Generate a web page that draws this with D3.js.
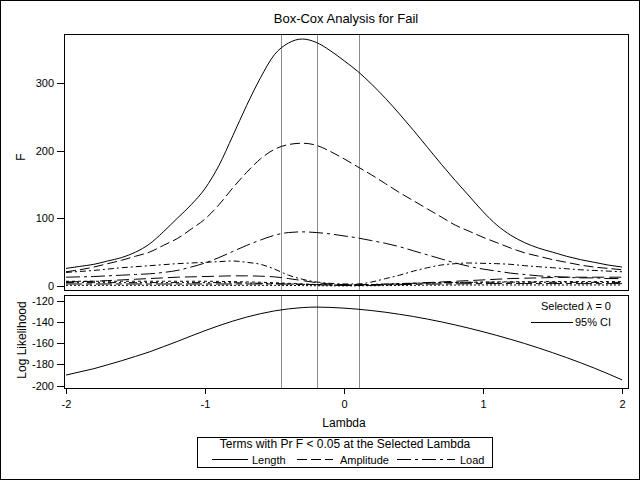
<!DOCTYPE html>
<html><head><meta charset="utf-8">
<script src="https://cdn.jsdelivr.net/npm/d3@7"></script>
<style>
body{margin:0;background:#fff}
text{font-family:"Liberation Sans",Arial,Helvetica,sans-serif;fill:#000}
</style>
</head><body>
<svg id="chart" width="640" height="480"></svg>
<script>
// ---------------- data ----------------
const lambdaValues = [-2.0,-1.9,-1.8,-1.7,-1.6,-1.5,-1.4,-1.3,-1.2,-1.1,-1.0,-0.9,-0.8,-0.7,-0.6,-0.5,-0.4,-0.3,-0.2,-0.1,0.0,0.1,0.2,0.3,0.4,0.5,0.6,0.7,0.8,0.9,1.0,1.1,1.2,1.3,1.4,1.5,1.6,1.7,1.8,1.9,2.0];
const fLength    = [26,29,32,37,42,50,62,80,100,120,144,178,222,267,308,342,359,365,360,348,333,317,298,277,254,230,205,180,156,133,110,90,75,64,56,50,44,39,35,31,28];
const fAmplitude = [21,24,28,33,38,44,50,60,70,84,99,120,145,168,188,202,209,211,208,199,188,176,164,151,138,126,114,102,90,81,72,64,56,49,44,39,35,31,28,26,24];
const fLoad      = [13,13.5,14,15,16,17,18,20,23,28,34,42,51,60,68,75,79,80,79,77,74,71,67,63,58,52,46,40,34,29,25,22,19,17,15,14,13,12,12,11,11];
const fTermA     = [20,21.5,23,25,27,28.5,30,31.5,33,34,35,36,37,35,32,25,16,10,6,4,3,3,6,11,16,22,27,31,33,34,33.5,33,32,30,28.5,27,25.5,24,23,22,21];
const fTermB     = [6,6.5,7,8,9,10,11,12,13,13.5,14,14.5,15,15,14.5,13.5,11,8,5,3,2,2,2,2.5,3,4,5,6,7,8,9,10,11,11.5,12,12.5,13,13,13,13,13];
const fTermC     = [7,7,7,7,7,7,7,7,7,7,7,6.8,6.5,6,5.5,4.8,4,3,2.2,1.5,1,1.2,1.8,2.5,3.2,3.8,4.3,4.8,5.2,5.5,5.8,6,6.2,6.3,6.4,6.5,6.5,6.5,6.5,6.5,6.5];
const fTermD     = [5,5,5,5,5,5,5,5,5,5,5,5,4.8,4.5,4,3.5,3,2.5,2,1.6,1.5,1.8,2.3,3,3.6,4.2,4.6,5,5.2,5.4,5.5,5.6,5.6,5.6,5.5,5.5,5.4,5.4,5.3,5.3,5.2];
const fTermE     = [3,3,3,3,3,3,3,3,3,3,3,3,3,3,3,3,2.8,2.5,2,1.5,1,0.8,1,1.5,2,2.5,2.8,3,3.2,3.4,3.5,3.6,3.6,3.6,3.6,3.6,3.6,3.5,3.5,3.5,3.5];
const fTermF     = [1,1,1,1,1,1,1,1,1,1,1,1,1,1,1,0.9,0.8,0.6,0.4,0.3,0.2,0.3,0.4,0.6,0.8,1,1.2,1.3,1.4,1.5,1.5,1.5,1.5,1.5,1.5,1.5,1.5,1.5,1.5,1.5,1.5];
const logLik     = [-190,-187,-184,-180.3,-176.5,-172.4,-168.2,-163.3,-158.4,-153.2,-148.2,-143.5,-139.2,-135.4,-132.2,-129.6,-127.7,-126.5,-126.0,-126.3,-127.0,-128.0,-129.3,-130.9,-132.8,-134.9,-137.3,-139.9,-142.8,-145.9,-149.2,-152.7,-156.4,-160.3,-164.5,-168.9,-173.5,-178.3,-183.4,-188.8,-194.5];
const ciLines    = [-0.45, -0.195, 0.105];
const xTicks     = [-2,-1,0,1,2];
const fTicks     = [0,100,200,300];
const llTicks    = [-200,-180,-160,-140,-120];
const legendTerms = ["Length","Amplitude","Load"];

const series = [
  {name:"Length",    values:fLength,    dash:null},
  {name:"Amplitude", values:fAmplitude, dash:"10,4"},
  {name:"Load",      values:fLoad,      dash:"14,4,3,4"},
  {name:"A",         values:fTermA,     dash:"6,3,2,3"},
  {name:"B",         values:fTermB,     dash:"12,5"},
  {name:"C",         values:fTermC,     dash:"3,3"},
  {name:"D",         values:fTermD,     dash:"8,3,2,3,2,3"},
  {name:"E",         values:fTermE,     dash:"16,4,6,4"},
  {name:"F",         values:fTermF,     dash:"2,2"}
];

// ---------------- layout ----------------
const svg = d3.select("#chart");
const L = 64, R = 629;
const topP = {y0:34, y1:290};
const botP = {y0:295, y1:388};

svg.append("rect").attr("x",0.5).attr("y",0.5).attr("width",639).attr("height",479)
  .attr("fill","#fff").attr("stroke","#000");

const x = d3.scaleLinear().domain([-2,2]).range([66,622]);
const yF = d3.scaleLinear().domain([0,300]).range([286,83]);
const yL = d3.scaleLinear().domain([-200,-120]).range([385.7,300.7]);

const defs = svg.append("defs");
defs.append("clipPath").attr("id","clipTop").append("rect")
  .attr("x",L).attr("y",topP.y0).attr("width",R-L).attr("height",topP.y1-topP.y0);
defs.append("clipPath").attr("id","clipBot").append("rect")
  .attr("x",L).attr("y",botP.y0).attr("width",R-L).attr("height",botP.y1-botP.y0);

// title
svg.append("text").attr("x",346).attr("y",23).attr("text-anchor","middle")
  .attr("font-size",13).text("Box-Cox Analysis for Fail");

// CI vertical lines
[topP, botP].forEach(p=>{
  svg.append("g").selectAll("line").data(ciLines).join("line")
    .attr("x1",d=>Math.round(x(d))+0.5).attr("x2",d=>Math.round(x(d))+0.5)
    .attr("y1",p.y0).attr("y2",p.y1)
    .attr("stroke","#8c8c8c").attr("stroke-width",1);
});

// top panel curves
const lineF = (vals)=> d3.line().x((d,i)=>x(lambdaValues[i])).y(d=>yF(d)).curve(d3.curveMonotoneX)(vals);
svg.append("g").attr("clip-path","url(#clipTop)").selectAll("path").data(series.slice().reverse()).join("path")
  .attr("d",d=>lineF(d.values)).attr("fill","none").attr("stroke","#000").attr("stroke-width",1)
  .attr("stroke-dasharray",d=>d.dash);

// bottom panel curve
const lineL = d3.line().x((d,i)=>x(lambdaValues[i])).y(d=>yL(d)).curve(d3.curveMonotoneX);
svg.append("g").attr("clip-path","url(#clipBot)").append("path")
  .attr("d",lineL(logLik)).attr("fill","none").attr("stroke","#000").attr("stroke-width",1);

// frames
[topP, botP].forEach(p=>{
  svg.append("rect").attr("x",L+0.5).attr("y",p.y0+0.5).attr("width",R-L-1).attr("height",p.y1-p.y0)
    .attr("fill","none").attr("stroke","#000").attr("shape-rendering","crispEdges");
});

// axes
function styleAxis(g){
  g.select(".domain").remove();
  g.selectAll("text").attr("font-size",11).attr("font-family","'Liberation Sans',Arial,sans-serif").attr("fill","#000");
  g.selectAll("line").attr("stroke","#000").attr("shape-rendering","crispEdges");
}
svg.append("g").attr("transform",`translate(${L},0)`)
  .call(d3.axisLeft(yF).tickValues(fTicks).tickSize(7).tickPadding(3).tickFormat(d=>String(d))).call(styleAxis);
svg.append("g").attr("transform",`translate(${L},0)`)
  .call(d3.axisLeft(yL).tickValues(llTicks).tickSize(7).tickPadding(3).tickFormat(d=>String(d))).call(styleAxis);
svg.append("g").attr("transform",`translate(0,${botP.y1})`)
  .call(d3.axisBottom(x).tickValues(xTicks).tickSize(6).tickPadding(6).tickFormat(d=>String(d))).call(styleAxis);

// axis labels
svg.append("text").attr("x",344).attr("y",427).attr("text-anchor","middle").attr("font-size",12).text("Lambda");
svg.append("text").attr("transform","translate(25,157) rotate(-90)").attr("text-anchor","middle").attr("font-size",12).text("F");
svg.append("text").attr("transform","translate(26,340) rotate(-90)").attr("text-anchor","middle").attr("font-size",12).text("Log Likelihood");

// inset legend
svg.append("text").attr("x",611).attr("y",310).attr("text-anchor","end").attr("font-size",11).text("Selected \u03BB = 0");
svg.append("line").attr("x1",531).attr("x2",573).attr("y1",322.5).attr("y2",322.5).attr("stroke","#000");
svg.append("text").attr("x",611).attr("y",326).attr("text-anchor","end").attr("font-size",11).text("95% CI");

// bottom legend
const lg = svg.append("g");
lg.append("rect").attr("x",197.5).attr("y",437.5).attr("width",295).attr("height",30)
  .attr("fill","#fff").attr("stroke","#000").attr("shape-rendering","crispEdges");
lg.append("text").attr("x",345).attr("y",448).attr("text-anchor","middle").attr("font-size",12)
  .text("Terms with Pr F < 0.05 at the Selected Lambda");
const lgItems = [
  {x1:212,x2:248,tx:252},
  {x1:297,x2:333,tx:340},
  {x1:397,x2:455,tx:460}
];
legendTerms.forEach((t,i)=>{
  const s = series.find(d=>d.name===t);
  const it = lgItems[i];
  lg.append("line").attr("x1",it.x1).attr("x2",it.x2).attr("y1",459.5).attr("y2",459.5)
    .attr("stroke","#000").attr("stroke-dasharray",s.dash);
  lg.append("text").attr("x",it.tx).attr("y",463.5).attr("font-size",11).text(t);
});
</script>
</body></html>
